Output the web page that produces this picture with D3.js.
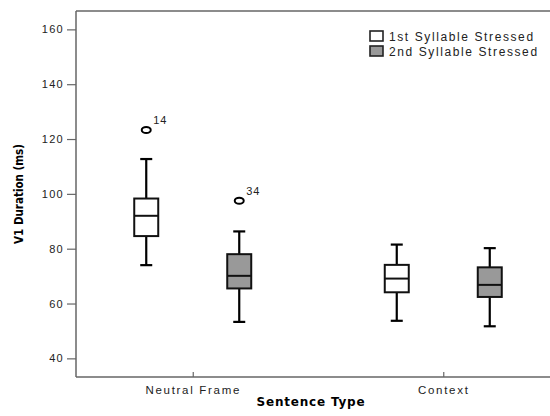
<!DOCTYPE html>
<html>
<head>
<meta charset="utf-8">
<script src="https://cdn.jsdelivr.net/npm/d3@7"></script>
<style>
  body { margin: 0; background: #fff; overflow: hidden; }
  svg { display: block; }
  text { font-family: "Liberation Sans", Arial, sans-serif; }
</style>
</head>
<body>
<div id="chart"></div>
<script>
var svgWidth = 550;
var svgHeight = 416;

var margin = { top: 11, right: -10, bottom: 39, left: 76 };
var width = svgWidth - margin.left - margin.right;
var height = svgHeight - margin.top - margin.bottom;

// data: [low whisker, Q1, median, Q3, high whisker]
var categories = ["Neutral Frame", "Context"];
var seriesNames = ["1st Syllable Stressed", "2nd Syllable Stressed"];
var seriesColors = ["#ffffff", "#999999"];
var firstStressed = [[74, 84.6, 92, 98.3, 112.7], [53.7, 64.1, 69.1, 74.1, 81.5]];
var secondStressed = [[53.3, 65.5, 70.1, 78, 86.3], [51.7, 62.4, 66.8, 73.2, 80.2]];
var outliers = [
  { cat: "Neutral Frame", series: 0, value: 123.3, label: "14" },
  { cat: "Neutral Frame", series: 1, value: 97.5, label: "34" }
];
var yTicks = [40, 60, 80, 100, 120, 140, 160];

var svg = d3.select("#chart")
  .append("svg")
  .attr("width", svgWidth)
  .attr("height", svgHeight);

var chartGroup = svg.append("g")
  .attr("transform", `translate(${margin.left}, ${margin.top})`);

var yScale = d3.scaleLinear()
  .domain([33.2, 166.7])
  .range([height, 0]);

var xScale = d3.scalePoint()
  .domain(categories)
  .range([0, width])
  .padding(0.466);

var offset = d3.scaleOrdinal()
  .domain([0, 1])
  .range([-46.5, 46.5]);

var boxWidth = 24;
var capWidth = 12;
var axisColor = "#666";

// frame lines (top + bottom run to the edge, left is the y axis)
chartGroup.append("line")
  .attr("x1", 0).attr("x2", width)
  .attr("y1", 0).attr("y2", 0)
  .attr("stroke", axisColor).attr("stroke-width", 1.5);

// y axis
var leftAxis = d3.axisLeft(yScale).tickValues(yTicks).tickSize(9).tickPadding(3);
var yAxis = chartGroup.append("g").call(leftAxis);
yAxis.select(".domain").remove();
yAxis.selectAll(".tick line").attr("stroke", axisColor).attr("stroke-width", 1.2);
yAxis.selectAll(".tick text")
  .attr("fill", "#222")
  .style("font-size", "11px")
  .style("letter-spacing", "1.3px");
chartGroup.append("line")
  .attr("x1", 0).attr("x2", 0)
  .attr("y1", 0).attr("y2", height)
  .attr("stroke", axisColor).attr("stroke-width", 1.5);

// x axis
var bottomAxis = d3.axisBottom(xScale).tickSize(5).tickSizeOuter(0).tickPadding(5);
var xAxis = chartGroup.append("g")
  .attr("transform", `translate(0, ${height})`)
  .call(bottomAxis);
xAxis.select(".domain").remove();
xAxis.selectAll(".tick line").attr("stroke", axisColor).attr("stroke-width", 1.2)
  .attr("y1", -5).attr("y2", 0);
xAxis.selectAll(".tick text")
  .attr("fill", "#222")
  .attr("y", 9)
  .style("font-size", "11.5px")
  .style("letter-spacing", "1.7px");
chartGroup.append("line")
  .attr("x1", 0).attr("x2", width)
  .attr("y1", height).attr("y2", height)
  .attr("stroke", axisColor).attr("stroke-width", 1.5);

// boxes
var seriesData = [firstStressed, secondStressed];
seriesData.forEach(function(series, s) {
  series.forEach(function(stat, i) {
    var cx = xScale(categories[i]) + offset(s);
    var g = chartGroup.append("g");
    // whiskers
    g.append("line")
      .attr("x1", cx).attr("x2", cx)
      .attr("y1", yScale(stat[0])).attr("y2", yScale(stat[1]))
      .attr("stroke", "#000").attr("stroke-width", 2.2);
    g.append("line")
      .attr("x1", cx).attr("x2", cx)
      .attr("y1", yScale(stat[3])).attr("y2", yScale(stat[4]))
      .attr("stroke", "#000").attr("stroke-width", 2.2);
    [stat[0], stat[4]].forEach(function(v) {
      g.append("line")
        .attr("x1", cx - capWidth / 2).attr("x2", cx + capWidth / 2)
        .attr("y1", yScale(v)).attr("y2", yScale(v))
        .attr("stroke", "#000").attr("stroke-width", 2.2);
    });
    g.append("rect")
      .attr("x", cx - boxWidth / 2)
      .attr("y", yScale(stat[3]))
      .attr("width", boxWidth)
      .attr("height", yScale(stat[1]) - yScale(stat[3]))
      .attr("fill", seriesColors[s])
      .attr("stroke", "#111").attr("stroke-width", 2);
    g.append("line")
      .attr("x1", cx - boxWidth / 2).attr("x2", cx + boxWidth / 2)
      .attr("y1", yScale(stat[2])).attr("y2", yScale(stat[2]))
      .attr("stroke", "#111").attr("stroke-width", 2);
  });
});

// outliers
outliers.forEach(function(o) {
  var cx = xScale(o.cat) + offset(o.series);
  chartGroup.append("ellipse")
    .attr("cx", cx).attr("cy", yScale(o.value))
    .attr("rx", 4.5).attr("ry", 3)
    .attr("fill", "none").attr("stroke", "#000").attr("stroke-width", 2);
  chartGroup.append("text")
    .attr("x", cx + 7).attr("y", yScale(o.value) - 6)
    .attr("fill", "#222")
    .style("font-size", "11px")
    .style("letter-spacing", "1px")
    .text(o.label);
});

// legend
var legend = svg.append("g").attr("transform", "translate(370, 31)");
seriesNames.forEach(function(name, s) {
  var row = legend.append("g").attr("transform", `translate(0, ${s * 15})`);
  row.append("rect")
    .attr("x", 0).attr("y", 0)
    .attr("width", 13).attr("height", 10)
    .attr("fill", seriesColors[s])
    .attr("stroke", "#222").attr("stroke-width", 1.6);
  row.append("text")
    .attr("x", 19).attr("y", 9.5)
    .attr("fill", "#222")
    .style("font-size", "12px")
    .style("letter-spacing", "1.6px")
    .text(name);
});

// axis titles
svg.append("text")
  .attr("transform", "translate(23, 194) rotate(-90)")
  .attr("text-anchor", "middle")
  .style("font-family", "'Liberation Sans Narrow', 'DejaVu Sans Condensed', sans-serif")
  .style("font-weight", "bold")
  .style("font-size", "11.5px")
  .text("V1 Duration (ms)");

svg.append("text")
  .attr("x", 311).attr("y", 406)
  .attr("text-anchor", "middle")
  .style("font-family", "'DejaVu Sans', sans-serif")
  .style("font-weight", "bold")
  .style("font-size", "12px")
  .style("letter-spacing", "0.8px")
  .text("Sentence Type");
</script>
</body>
</html>
